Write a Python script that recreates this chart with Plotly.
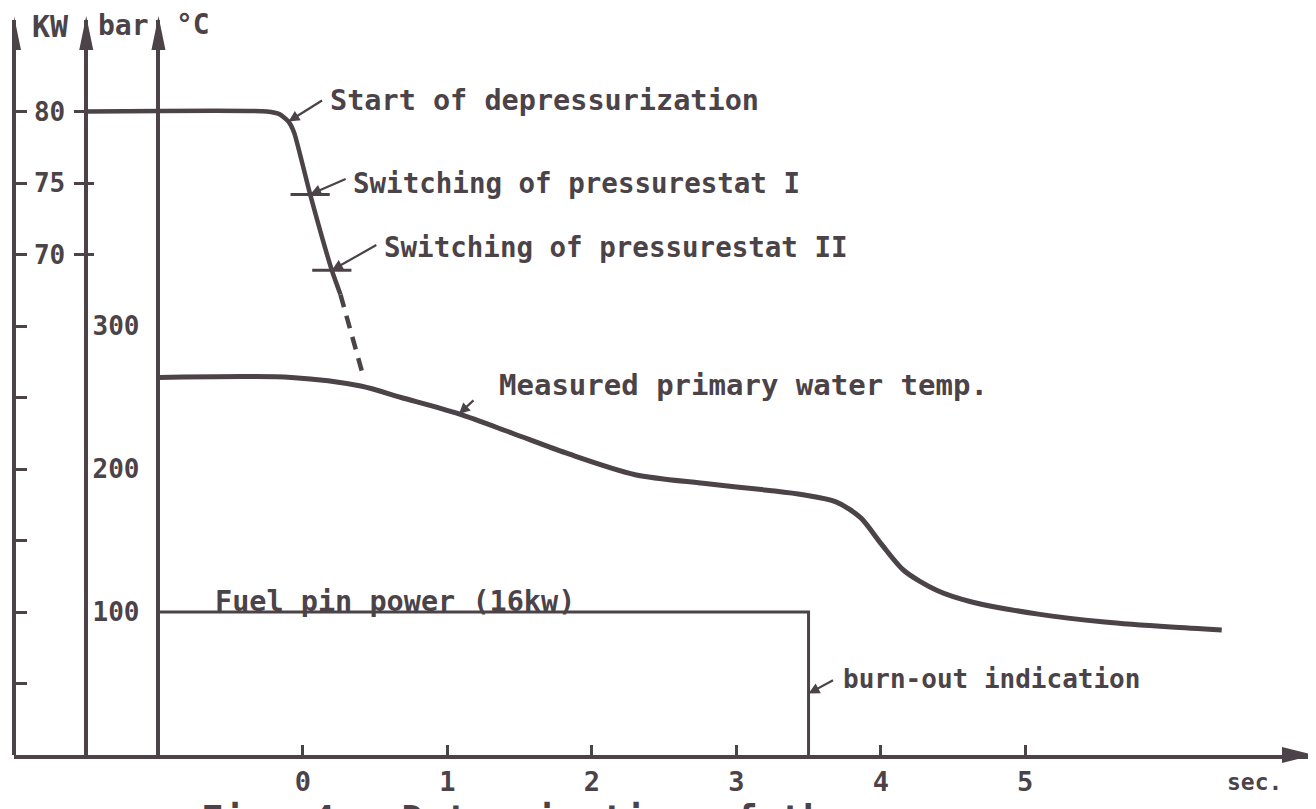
import plotly.graph_objects as go

# ---------------- data ----------------
# time axis in seconds
x_tick_vals = [0, 1, 2, 3, 4, 5]

# pressure (bar) – solid part
time_pressure = [-1.5, -0.25, -0.16, -0.10, -0.06, 0.05, 0.20, 0.26]
pressure_bar = [80.0, 80.0, 79.8, 79.3, 78.5, 74.2, 68.9, 67.2]
# pressure – dashed (extrapolated) part
time_pressure_dashed = [0.26, 0.42]
pressure_bar_dashed = [67.2, 61.4]
# pressurestat switching points
pressurestat_time = [0.05, 0.20]
pressurestat_bar = [74.2, 68.9]

# measured primary water temperature (deg C)
time_temp = [-1.0, -0.08, 0.40, 0.68, 1.08, 1.45, 1.84, 2.30, 2.77, 3.23, 3.46,
             3.69, 3.86, 4.00, 4.16, 4.39, 4.63, 5.09, 5.55, 6.01, 6.36]
temp_c = [264, 264, 258, 250, 238.5, 225, 210.5, 196, 190, 185, 182,
          177, 166, 148, 129, 115, 107, 98.5, 93, 89.5, 87.5]

# fuel pin power (kW)
time_power = [-1.0, 3.5, 3.5]
power_kw = [16, 16, 0]

# axis ticks
bar_tick_vals = [70, 75, 80]
temp_tick_vals = [100, 200, 300]
kw_tick_vals = [8, 16, 24, 32, 40, 48, 56, 64, 72]

# axis positions on the time scale
t_axis_kw, t_axis_bar, t_axis_c = -2.0, -1.5, -1.0

# ---------------- style ----------------
INK = '#4b4347'
FONT = 'DejaVu Sans Mono'
W, H = 1316, 809
# the page body adds an 8 px offset; margins below are in figure pixels
ML, MR, MT, MB = 6, 12, 12, 62
X_RANGE = [-2.0, 6.985]
PX_PER_C = 1.43
TOP_C = (H - MT - MB) / PX_PER_C          # deg C at top of plot
C_RANGE = [0, TOP_C]
KW_RANGE = [0, TOP_C * 8 / 50]            # 8 kW per 50 deg C
BAR_RANGE = [35, 35 + TOP_C / 10]         # 5 bar per 50 deg C
xspan = X_RANGE[1] - X_RANGE[0]

fig = go.Figure()

fig.add_trace(go.Scatter(x=time_temp, y=temp_c, mode='lines', yaxis='y',
                         line=dict(color=INK, width=5, shape='spline', smoothing=0.8),
                         hoverinfo='skip'))
fig.add_trace(go.Scatter(x=time_power, y=power_kw, mode='lines', yaxis='y3',
                         line=dict(color=INK, width=3), hoverinfo='skip'))
fig.add_trace(go.Scatter(x=time_pressure, y=pressure_bar, mode='lines', yaxis='y2',
                         line=dict(color=INK, width=4.5, shape='spline', smoothing=0.5),
                         hoverinfo='skip'))
fig.add_trace(go.Scatter(x=time_pressure_dashed, y=pressure_bar_dashed, mode='lines', yaxis='y2',
                         line=dict(color=INK, width=4.5, dash='13px,9px'), hoverinfo='skip'))
fig.add_trace(go.Scatter(x=pressurestat_time, y=pressurestat_bar, mode='markers', yaxis='y2',
                         marker=dict(symbol='line-ew-open', size=28, color=INK,
                                     line=dict(color=INK, width=3)),
                         hoverinfo='skip'))
# empty trace so the inner half of the crossing bar ticks is drawn
fig.add_trace(go.Scatter(x=[], y=[], yaxis='y4', hoverinfo='skip'))

# ---------------- axes ----------------
axis_common = dict(showgrid=False, zeroline=False, showline=True, linecolor=INK,
                   linewidth=3.5, tickcolor=INK, tickwidth=3, automargin=False)
tick_font = dict(family=FONT, size=26, color=INK, weight='bold')
pos_bar = (t_axis_bar - X_RANGE[0]) / xspan

fig.update_layout(
    width=W, height=H,
    margin=dict(l=ML, r=MR, t=MT, b=MB, autoexpand=False),
    paper_bgcolor='white', plot_bgcolor='white',
    showlegend=False,
    xaxis=dict(range=X_RANGE, tickvals=x_tick_vals, ticks='inside', ticklen=10,
               ticklabelstandoff=0, anchor='y',
               tickfont=dict(family=FONT, size=27, color=INK, weight='bold'),
               **axis_common),
    yaxis=dict(range=C_RANGE, tickvals=temp_tick_vals, ticks='', anchor='free',
               position=(t_axis_c - X_RANGE[0]) / xspan, ticklabelstandoff=12,
               tickfont=tick_font, **axis_common),
    yaxis2=dict(range=BAR_RANGE, tickvals=bar_tick_vals, ticks='outside', ticklen=10,
                anchor='free', overlaying='y', position=pos_bar, ticklabelstandoff=4,
                tickfont=tick_font, **axis_common),
    yaxis3=dict(range=KW_RANGE, tickvals=kw_tick_vals, ticks='inside', ticklen=11,
                showticklabels=False, anchor='free', overlaying='y',
                position=(t_axis_kw - X_RANGE[0]) / xspan,
                **axis_common),
    yaxis4=dict(range=BAR_RANGE, tickvals=bar_tick_vals, ticks='inside', ticklen=7,
                showticklabels=False, anchor='free', overlaying='y', position=pos_bar,
                showgrid=False, zeroline=False, showline=False, tickcolor=INK,
                tickwidth=3, automargin=False),
)

# ---------------- axis arrowheads ----------------
shapes = []
for t_ax in (t_axis_kw, t_axis_bar, t_axis_c):
    shapes.append(dict(type='path', xref='x', yref='paper', xsizemode='pixel',
                       ysizemode='pixel', xanchor=t_ax, yanchor=1,
                       path='M -7,-30 L 0,4 L 7,-30 Z', fillcolor=INK, line=dict(width=0)))
shapes.append(dict(type='path', xref='paper', yref='paper', xsizemode='pixel',
                   ysizemode='pixel', xanchor=1, yanchor=0,
                   path='M -30,-8 L 2,0 L -30,8 Z', fillcolor=INK, line=dict(width=0)))
fig.update_layout(shapes=shapes)

# ---------------- text ----------------
def txt(text, x, y, size, xref='x', yref='y', xanchor='left', yanchor='middle',
        xshift=0, yshift=0):
    return dict(text=text, x=x, y=y, xref=xref, yref=yref, xanchor=xanchor,
                yanchor=yanchor, xshift=xshift, yshift=yshift, showarrow=False,
                font=dict(family=FONT, size=size, color=INK, weight='bold'))


def leader(x, y, ax, ay, yref):
    return dict(text='', x=x, y=y, xref='x', yref=yref, ax=ax, ay=ay,
                showarrow=True, arrowhead=2, arrowsize=1, arrowwidth=2.2,
                arrowcolor=INK, standoff=0)

ann = [
    # axis titles
    txt('KW', t_axis_kw, 1, 30, yref='paper', xshift=16, yshift=-6),
    txt('bar', t_axis_bar, 1, 28, yref='paper', xshift=10, yshift=-5),
    txt('°C', t_axis_c, 1, 28, yref='paper', xshift=16, yshift=-4),
    # curve labels
    txt('Start of depressurization', 0.174, 458, 28.5),
    txt('Switching of pressurestat I', 0.333, 400, 27.5),
    txt('Switching of pressurestat II', 0.547, 355, 27.5),
    txt('Measured primary water temp.', 1.343, 259, 29),
    txt('Fuel pin power (16kw)', -0.622, 107, 28.5),
    txt('burn-out indication', 3.725, 53, 26),
    txt('sec.', 6.584, 0, 23, xanchor='center', yshift=-27),
    txt('Fig. 4 - Determination of the', -0.72, 0, 37, yanchor='top', yshift=-41),
    # leaders
    leader(time_pressure[3], pressure_bar[3], 35, -22, 'y2'),
    leader(pressurestat_time[0], pressurestat_bar[0], 37, -16, 'y2'),
    leader(pressurestat_time[1], pressurestat_bar[1], 46, -26, 'y2'),
    leader(time_temp[4], temp_c[4], 16, -15, 'y'),
    leader(time_power[1], 43, 26, -14, 'y'),
]
fig.update_layout(annotations=ann)

fig.write_html('out.html')
